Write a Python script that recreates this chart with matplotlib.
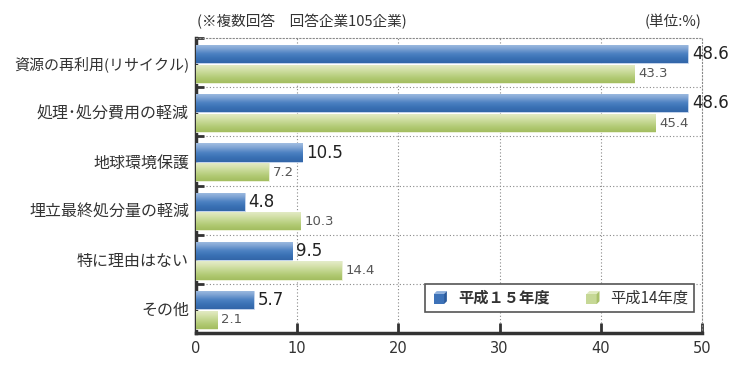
import numpy as np
import matplotlib
matplotlib.use("Agg")
import matplotlib.pyplot as plt
from matplotlib.colors import LinearSegmentedColormap
from matplotlib.patches import Patch, Polygon
from matplotlib.legend_handler import HandlerBase

plt.rcParams['font.family'] = ['Noto Sans CJK JP', 'DejaVu Sans']

# data
categories = ['資源の再利用(リサイクル)', '処理･処分費用の軽減', '地球環境保護',
              '埋立最終処分量の軽減', '特に理由はない', 'その他']
h15 = [48.6, 48.6, 10.5, 4.8, 9.5, 5.7]
h14 = [43.3, 45.4, 7.2, 10.3, 14.4, 2.1]
xticks = [0, 10, 20, 30, 40, 50]
label_h15 = '平成１５年度'
label_h14 = '平成14年度'
note_left = '(※複数回答　回答企業105企業)'
note_right = '(単位:%)'

blue_cmap = LinearSegmentedColormap.from_list(
    'b', ['#a2bee2', '#7da2d3', '#4d82c2', '#3a71b5', '#3366a8'])
green_cmap = LinearSegmentedColormap.from_list(
    'g', ['#e4ecca', '#d6e2ad', '#c2d68f', '#b0c972', '#a3bd60'])

fig = plt.figure(figsize=(7.5, 3.77), dpi=100)
ax = fig.add_axes([196 / 750, 1 - 333 / 377, 506 / 750, 295 / 377])

y = np.arange(len(categories))
bar_h = 0.37
grad = np.linspace(0, 1, 64).reshape(-1, 1)


def grad_bars(vals, centers, cmap, edge):
    bars = ax.barh(centers, vals, height=bar_h, color=cmap(0.6),
                   edgecolor=edge, linewidth=0.6, zorder=3)
    for b in bars:
        x0, y0 = b.get_x(), b.get_y()
        w, h = b.get_width(), b.get_height()
        im = ax.imshow(grad, extent=[x0, x0 + w, y0 + h, y0], cmap=cmap,
                       aspect='auto', origin='upper', zorder=3.5,
                       interpolation='bilinear')
        im.set_clip_path(b)
    return bars


grad_bars(h15, y + 0.33, blue_cmap, '#c9d8ee')
grad_bars(h14, y + 0.73, green_cmap, '#eef3dd')

for yi, v in zip(y, h15):
    ax.annotate(f'{v:.1f}', (v, yi + 0.33), xytext=(3, 0), textcoords='offset points',
                va='center', ha='left', fontsize=12, color='#222222', zorder=5,
                family='DejaVu Sans')
for yi, v in zip(y, h14):
    ax.annotate(f'{v:.1f}', (v, yi + 0.73), xytext=(3, 0), textcoords='offset points',
                va='center', ha='left', fontsize=9.5, color='#555555', zorder=5,
                family='DejaVu Sans')

ax.set_xlim(0, 50)
ax.set_ylim(len(categories), 0)

# grid
for xv in xticks[1:-1]:
    ax.axvline(xv, color='#888888', lw=0.8, ls=(0, (1, 2)), zorder=1)
for yb in range(1, len(categories)):
    ax.axhline(yb, color='#888888', lw=0.8, ls=(0, (1, 2)), zorder=1)

for s in ['top', 'right']:
    ax.spines[s].set_linestyle((0, (1, 2)))
    ax.spines[s].set_color('#888888')
    ax.spines[s].set_linewidth(0.8)
for s in ['left', 'bottom']:
    ax.spines[s].set_color('#333333')
    ax.spines[s].set_linewidth(2.5)

ax.set_xticks(xticks)
ax.set_xticklabels([str(t) for t in xticks], family='DejaVu Sans')
ax.tick_params(axis='x', direction='in', length=7, width=2, color='#333333',
               labelsize=10.5, labelcolor='#333333', pad=6)
ax.set_yticks(range(len(categories) + 1))
ax.set_yticklabels([])
ax.tick_params(axis='y', which='major', direction='in', length=6, width=2, color='#333333')
ax.set_yticks(y + 0.5, minor=True)
ax.set_yticklabels(categories, minor=True)
ax.tick_params(axis='y', which='minor', length=0, pad=5, labelsize=11.5, labelcolor='#333333')
ax.get_yticklabels(minor=True)[0].set_fontsize(10.8)

fig.text(197 / 750, 1 - 22 / 377, note_left, fontsize=10.5, color='#333333', va='center', ha='left')
fig.text(702 / 750, 1 - 22 / 377, note_right, fontsize=10.5, color='#333333', va='center', ha='right')


class CubeHandler(HandlerBase):
    def __init__(self, front, top, side):
        super().__init__()
        self.front, self.top, self.side = front, top, side

    def create_artists(self, legend, orig_handle, xdescent, ydescent, width, height,
                       fontsize, trans):
        s = height * 0.95
        d = s * 0.28
        x0 = -xdescent + (width - s - d) / 2
        y0 = -ydescent - 1
        front = Polygon([[x0, y0], [x0 + s, y0], [x0 + s, y0 + s], [x0, y0 + s]],
                        closed=True, fc=self.front, ec='none', transform=trans)
        top = Polygon([[x0, y0 + s], [x0 + d, y0 + s + d], [x0 + s + d, y0 + s + d], [x0 + s, y0 + s]],
                      closed=True, fc=self.top, ec='none', transform=trans)
        side = Polygon([[x0 + s, y0], [x0 + s + d, y0 + d], [x0 + s + d, y0 + s + d], [x0 + s, y0 + s]],
                       closed=True, fc=self.side, ec='none', transform=trans)
        return [front, top, side]


hb = Patch(label=label_h15)
hg = Patch(label=label_h14)
leg = ax.legend(handles=[hb, hg], loc='lower right', bbox_to_anchor=(0.984, 0.071),
                ncol=2, fontsize=11, frameon=True, fancybox=False, framealpha=1,
                edgecolor='#555555', handlelength=1.3, handletextpad=0.5,
                columnspacing=2.2, borderpad=0.35, borderaxespad=0,
                handler_map={hb: CubeHandler('#3d72b8', '#8fb0dc', '#2a5a9c'),
                             hg: CubeHandler('#c6d896', '#e0eabf', '#a9c06a')})
leg.get_frame().set_linewidth(1.2)
leg.set_zorder(6)
for t in leg.get_texts():
    t.set_color('#333333')
leg.get_texts()[0].set_fontweight('bold')

fig.savefig('out.png', dpi=100)
